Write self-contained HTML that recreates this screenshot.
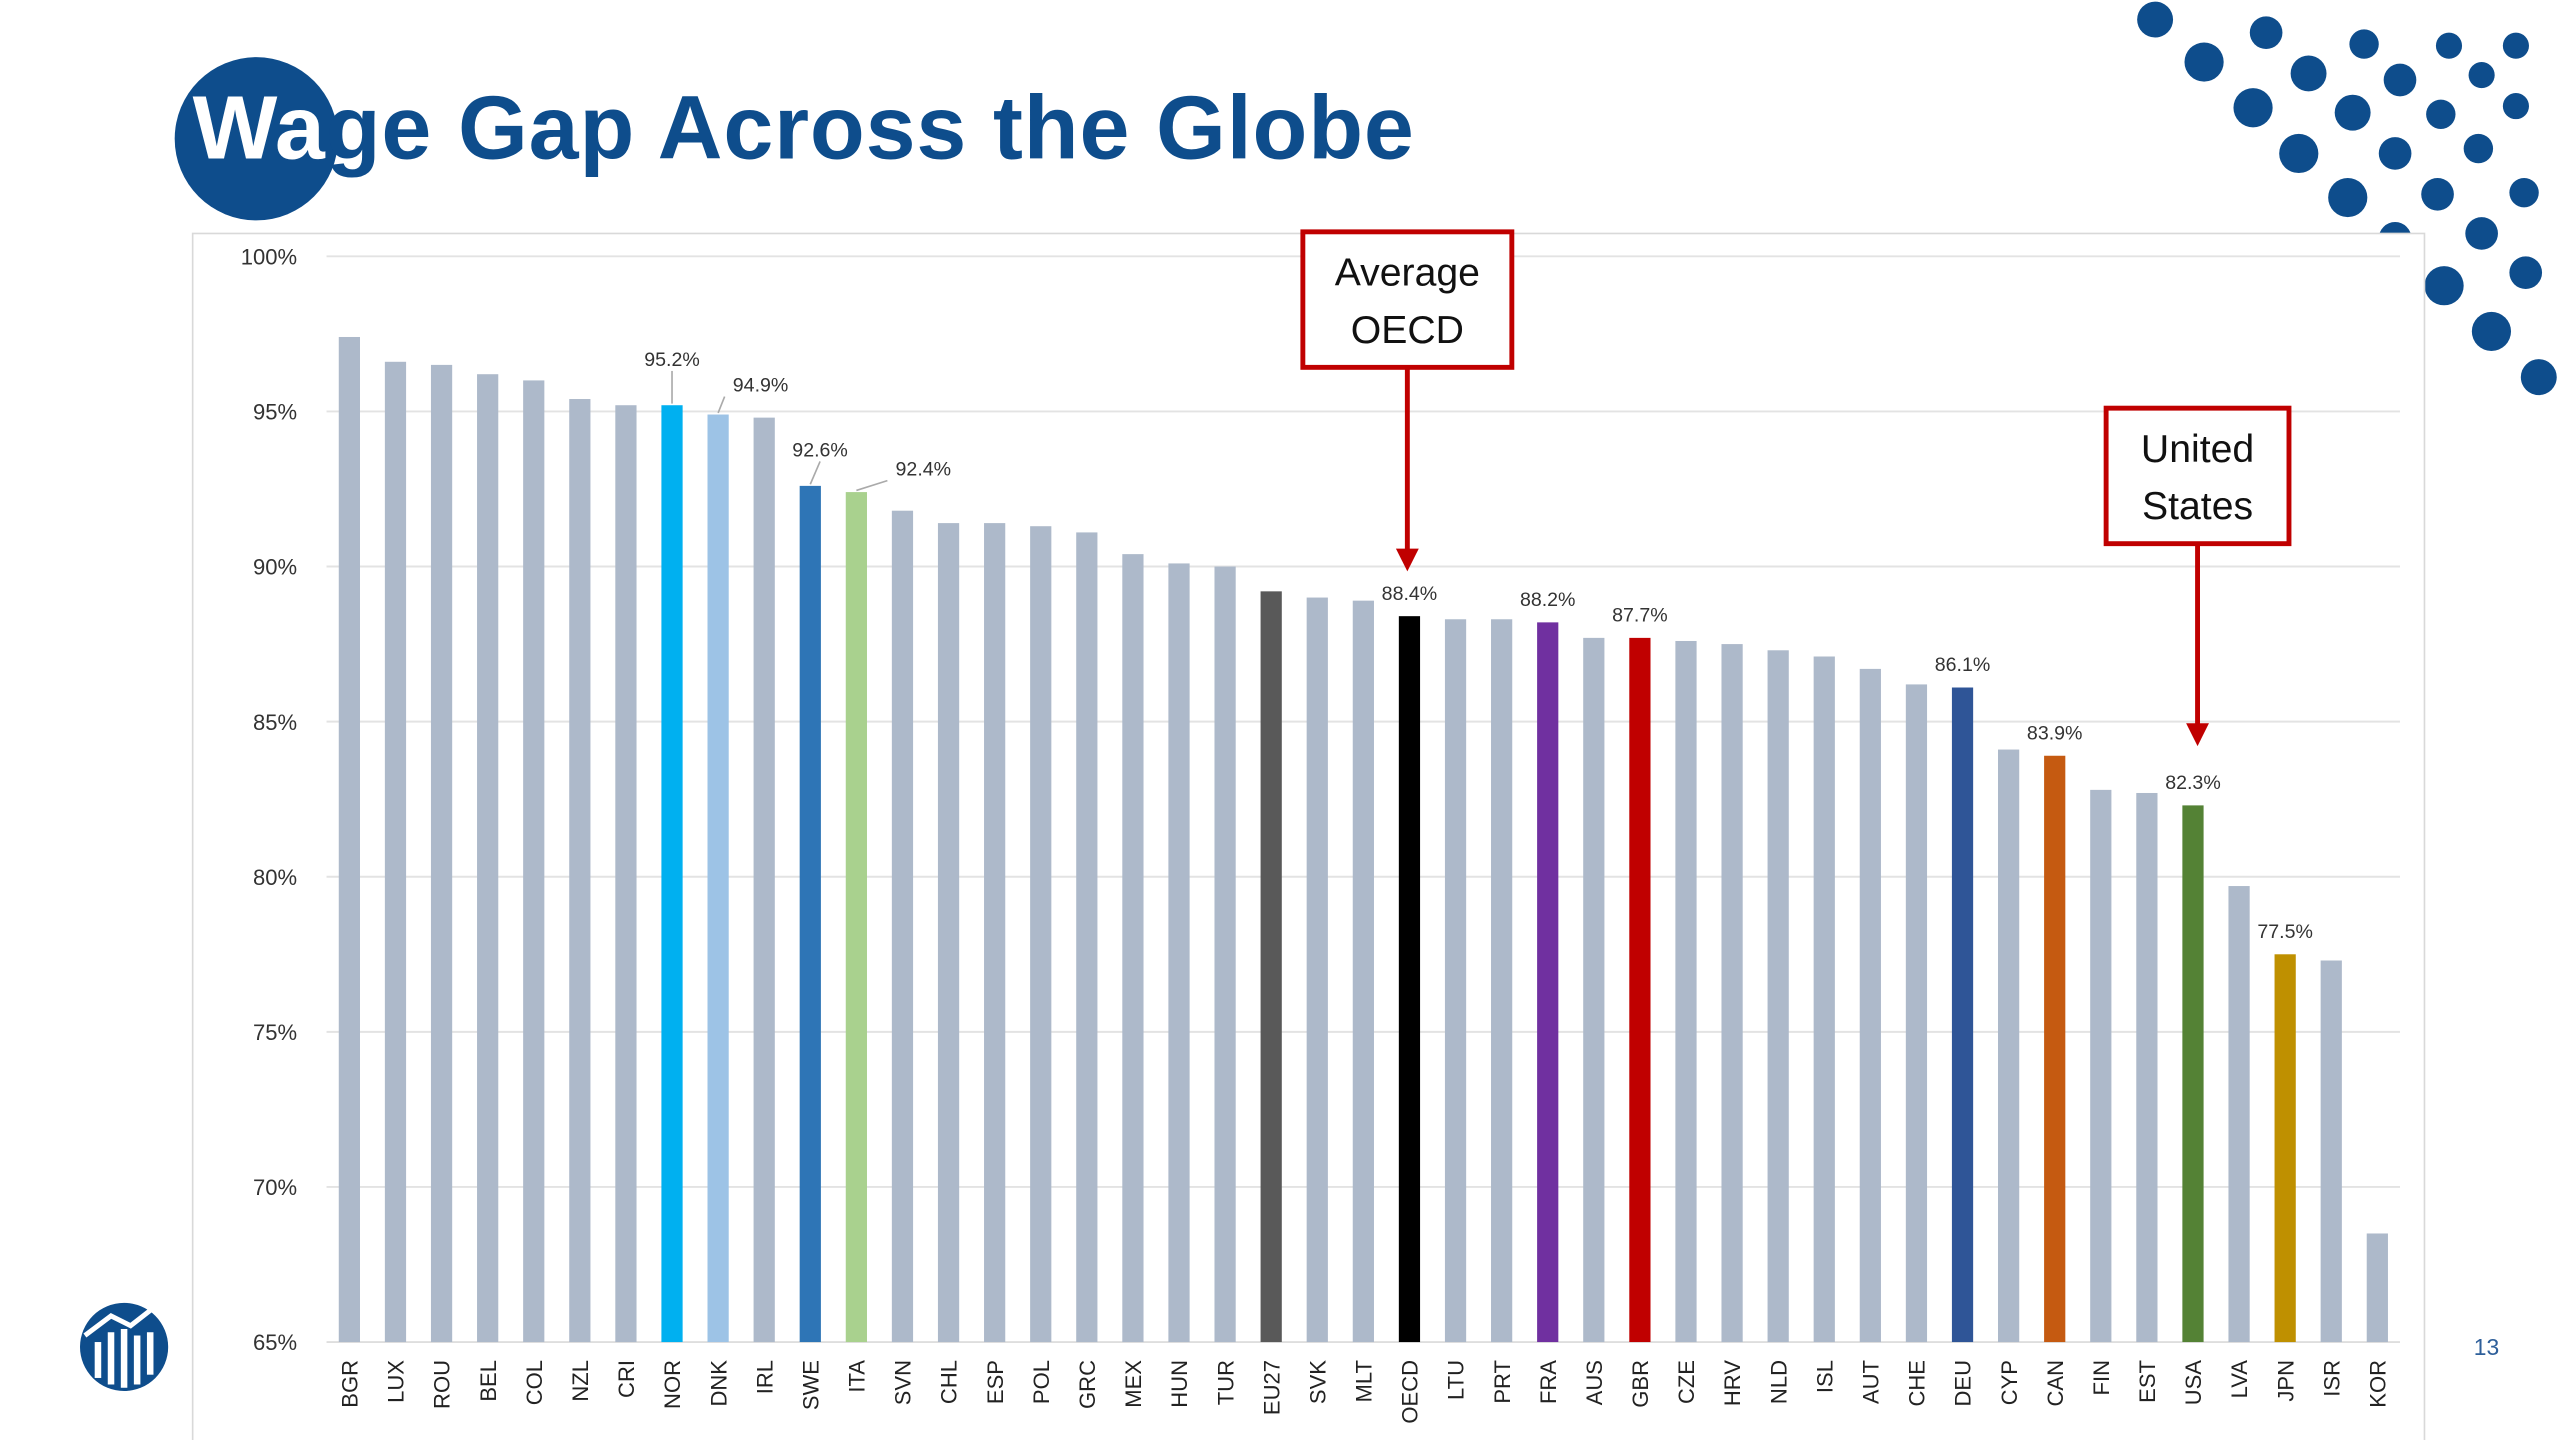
<!DOCTYPE html>
<html><head><meta charset="utf-8"><style>
html,body{margin:0;padding:0;background:#fff;}
svg{display:block;}
text{font-family:"Liberation Sans",sans-serif;}
</style></head><body>
<svg id="root" width="2560" height="1440" viewBox="0 0 1568 882" xmlns="http://www.w3.org/2000/svg">
<g id="dots"></g>
<rect x="118" y="143" width="1367" height="745" fill="#fff" stroke="#d9d9d9" stroke-width="1"/>
<g>
<circle cx="157" cy="85" r="50" fill="#0e4d8c"/>
<text x="118" y="97" font-size="55" font-weight="bold" fill="#0e4d8c" textLength="748" lengthAdjust="spacing"><tspan fill="#fff">Wa</tspan>ge Gap Across the Globe</text>
</g>
<g id="grid"></g>
<g id="yticks"></g>
<g id="bars"></g>
<g id="xlabels"></g>
<g id="vlabels"></g>
<g>
<rect x="798" y="142" width="128" height="83" fill="#fff" stroke="#c00000" stroke-width="3"/>
<text x="862" y="175" font-size="24" text-anchor="middle" fill="#111">Average</text>
<text x="862" y="210" font-size="24" text-anchor="middle" fill="#111">OECD</text>
<line x1="862" y1="225" x2="862" y2="338" stroke="#c00000" stroke-width="3"/>
<polygon points="855,336 869,336 862,350" fill="#c00000"/>
</g>
<g>
<rect x="1290" y="250" width="112" height="83" fill="#fff" stroke="#c00000" stroke-width="3"/>
<text x="1346" y="283" font-size="24" text-anchor="middle" fill="#111">United</text>
<text x="1346" y="318" font-size="24" text-anchor="middle" fill="#111">States</text>
<line x1="1346" y1="333" x2="1346" y2="445" stroke="#c00000" stroke-width="3"/>
<polygon points="1339,443 1353,443 1346,457" fill="#c00000"/>
</g>
<g>
<circle cx="76" cy="825" r="27" fill="#0e4d8c"/>
<rect x="58" y="822" width="4" height="22" fill="#fff"/><rect x="66" y="816" width="4" height="32" fill="#fff"/>
<rect x="74" y="814" width="4" height="36" fill="#fff"/><rect x="82" y="818" width="4" height="30" fill="#fff"/>
<rect x="90" y="816" width="4" height="26" fill="#fff"/>
<polyline points="52,818 68,806 80,812 98,798" fill="none" stroke="#fff" stroke-width="3"/>
</g>
<text x="1523" y="830" font-size="14" text-anchor="middle" fill="#2e5f9a">13</text>
</svg>
<script>
const categories=["BGR","LUX","ROU","BEL","COL","NZL","CRI","NOR","DNK","IRL","SWE","ITA","SVN","CHL","ESP","POL","GRC","MEX","HUN","TUR","EU27","SVK","MLT","OECD","LTU","PRT","FRA","AUS","GBR","CZE","HRV","NLD","ISL","AUT","CHE","DEU","CYP","CAN","FIN","EST","USA","LVA","JPN","ISR","KOR"];
const values=[97.4,96.6,96.5,96.2,96.0,95.4,95.2,95.2,94.9,94.8,92.6,92.4,91.8,91.4,91.4,91.3,91.1,90.4,90.1,90.0,89.2,89.0,88.9,88.4,88.3,88.3,88.2,87.7,87.7,87.6,87.5,87.3,87.1,86.7,86.2,86.1,84.1,83.9,82.8,82.7,82.3,79.7,77.5,77.3,68.5];
const highlight={NOR:"#00b0f0",DNK:"#9dc3e6",SWE:"#2e75b6",ITA:"#a9d18e",EU27:"#595959",OECD:"#000000",FRA:"#7030a0",GBR:"#c00000",DEU:"#2f5597",CAN:"#c55a11",USA:"#548235",JPN:"#bf9000"};
const labeled=["NOR","DNK","SWE","ITA","OECD","FRA","GBR","DEU","CAN","USA","JPN"];
const yTicks=[65,70,75,80,85,90,95,100];
/* label placement offsets (layout, not data): [dx, dy, leader] */
const labelOffsets={NOR:[0,-24,1],DNK:[26,-14,1],SWE:[6,-18,1],ITA:[41,-10,1]};
const NS="http://www.w3.org/2000/svg";
const yMin=65,yMax=100,yTop=157,yBot=822,x0=214,step=28.23;
function y(v){return yBot-(v-yMin)/(yMax-yMin)*(yBot-yTop);}
function x(i){return x0+i*step;}
function mk(tag,attrs,parent){const e=document.createElementNS(NS,tag);for(const k in attrs)e.setAttribute(k,attrs[k]);parent.appendChild(e);return e;}
const dots=[[1320,12,11],[1388,20,10],[1448,27,9],[1500,28,8],[1541,28,8],[1350,38,12],[1414,45,11],[1470,49,10],[1520,46,8],[1380,66,12],[1441,69,11],[1495,70,9],[1541,65,8],[1408,94,12],[1467,94,10],[1518,91,9],[1438,121,12],[1493,119,10],[1546,118,9],[1467,146,10],[1520,143,10],[1497,175,12],[1547,167,10],[1526,203,12],[1555,231,11]];
const dg=document.getElementById('dots');
dots.forEach(d=>{const c=mk('circle',{cx:d[0],cy:d[1],r:d[2],fill:'#0e4d8c'},dg);

});
const gg=document.getElementById('grid'),yt=document.getElementById('yticks');
yTicks.forEach(t=>{
 if(t>yMin){const l=mk('line',{x1:200,x2:1470,y1:y(t),y2:y(t),stroke:'#e3e3e3','stroke-width':1.2},gg);
 
 }
 const tx=mk('text',{x:182,y:y(t)+5,'font-size':13.5,'text-anchor':'end',fill:'#333'},yt);tx.textContent=t+'%';
 
 
});
mk('line',{x1:200,x2:1470,y1:yBot,y2:yBot,stroke:'#d9d9d9','stroke-width':1},gg);
const bg=document.getElementById('bars'),xl=document.getElementById('xlabels'),vl=document.getElementById('vlabels');
categories.forEach((c,i)=>{
 const v=values[i];
 const r=mk('rect',{x:x(i)-6.5,y:y(v),width:13,height:yBot-y(v),fill:highlight[c]||'#adb9ca'},bg);
 
 
 const t=mk('text',{transform:'translate('+(x(i)+5)+',833) rotate(-90)','font-size':13.5,'text-anchor':'end',fill:'#222'},xl);
 t.textContent=c;
 
 
 if(labeled.indexOf(c)>=0){
  const o=labelOffsets[c]||[0,-10,0];
  const lx=x(i)+o[0],ly=y(v)+o[1];
  if(o[2]){
   const ln=mk('line',{x1:x(i),y1:y(v)-1,x2:lx-(o[0]>20?22:0),y2:ly+3,stroke:'#aaa','stroke-width':1},vl);
   
   
  }
  const lt=mk('text',{x:lx,y:ly,'font-size':12,'text-anchor':'middle',fill:'#333'},vl);
  lt.textContent=v.toFixed(1)+'%';
  
  
 }
});
</script>
</body></html>
